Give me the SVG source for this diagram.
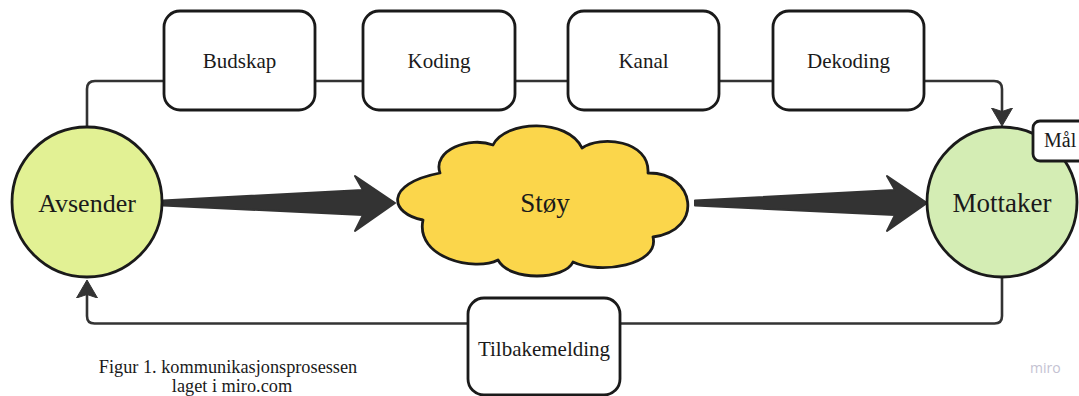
<svg xmlns="http://www.w3.org/2000/svg" width="1079" height="396" viewBox="0 0 1079 396">
<style>
.conn{fill:none;stroke:#333333;stroke-width:2.6;stroke-linejoin:round}
.box{fill:#ffffff;stroke:#1a1a1a;stroke-width:2.8}
.lbl{font-family:"Liberation Serif","Times New Roman",serif;fill:#1a1a1a;text-anchor:middle}
.big{fill:#333333;stroke:#333333;stroke-width:2;stroke-linejoin:round}
</style>
<defs>
<marker id="ah" markerUnits="userSpaceOnUse" viewBox="0 0 18 22" refX="15" refY="11" markerWidth="18" markerHeight="22" orient="auto">
<path d="M0,0.5 L18,11 L0,21.5 L3.5,11 z" fill="#333333" stroke="#333333" stroke-width="1" stroke-linejoin="round"/>
</marker>
</defs>
<rect width="1079" height="396" fill="#ffffff"/>
<g id="connectors">
<path class="conn" d="M87 127 V89 Q87 81 95 81 H164"/>
<path class="conn" d="M315 81 H363"/>
<path class="conn" d="M515 81 H568"/>
<path class="conn" d="M719 81 H773"/>
<path class="conn" d="M924 81 H994 Q1002 81 1002 89 V123" marker-end="url(#ah)"/>
<path class="conn" d="M1002 277 V316 Q1002 323.5 994.5 323.5 H94.5 Q87 323.5 87 316 V283" marker-end="url(#ah)"/>
<polygon class="big" points="163,200.5 363,190 355,176 395,203 355,231 363,215 163,205.5"/>
<polygon class="big" points="695,200.5 895,190 887,176 927,203 887,231 895,215 695,205.5"/>
</g>
<g id="avsender">
<circle cx="87" cy="202" r="75" fill="#e2f194" stroke="#1a1a1a" stroke-width="2.8"/>
<text class="lbl" x="87" y="212" font-size="26">Avsender</text>
</g>
<g id="budskap">
<rect class="box" x="164" y="11" width="151" height="99" rx="16"/>
<text class="lbl" x="239.5" y="68" font-size="21">Budskap</text>
</g>
<g id="koding">
<rect class="box" x="363" y="11" width="152" height="99" rx="16"/>
<text class="lbl" x="439" y="68" font-size="21">Koding</text>
</g>
<g id="kanal">
<rect class="box" x="568" y="11" width="151" height="99" rx="16"/>
<text class="lbl" x="643.5" y="68" font-size="21">Kanal</text>
</g>
<g id="dekoding">
<rect class="box" x="773" y="11" width="151" height="99" rx="16"/>
<text class="lbl" x="848.5" y="68" font-size="21">Dekoding</text>
</g>
<g id="stoy">
<path d="M423 220 C390 214, 383 184, 440 173 C432 150, 470 136, 493 145 C505 120, 568 118, 582 148 C600 135, 650 140, 648 173 C695 172, 705 230, 653 237 C660 265, 600 275, 573 262 C565 280, 510 282, 498 260 C475 272, 415 258, 423 220 Z" fill="#fbd64b" stroke="#1a1a1a" stroke-width="2.8" stroke-linejoin="round"/>
<text class="lbl" x="545" y="212" font-size="27">Støy</text>
</g>
<g id="mottaker">
<circle cx="1002" cy="202" r="75" fill="#d4edb4" stroke="#1a1a1a" stroke-width="2.8"/>
<text class="lbl" x="1002" y="212" font-size="27">Mottaker</text>
</g>
<g id="maal">
<rect class="box" x="1033" y="121" width="60" height="40" rx="7"/>
<text class="lbl" x="1044" y="147" font-size="20" style="text-anchor:start">Mål</text>
</g>
<g id="tilbakemelding">
<rect class="box" x="468" y="298" width="152" height="97" rx="16"/>
<text class="lbl" x="544" y="356" font-size="21">Tilbakemelding</text>
</g>
<g id="caption">
<text class="lbl" x="228" y="373" font-size="18.3">Figur 1. kommunikasjonsprosessen</text>
<text class="lbl" x="232" y="392" font-size="18.3">laget i miro.com</text>
</g>
<text x="1030" y="373" font-family="'Open Sans','Liberation Sans',sans-serif" font-size="14" fill="#c4c2d2">miro</text>
</svg>
